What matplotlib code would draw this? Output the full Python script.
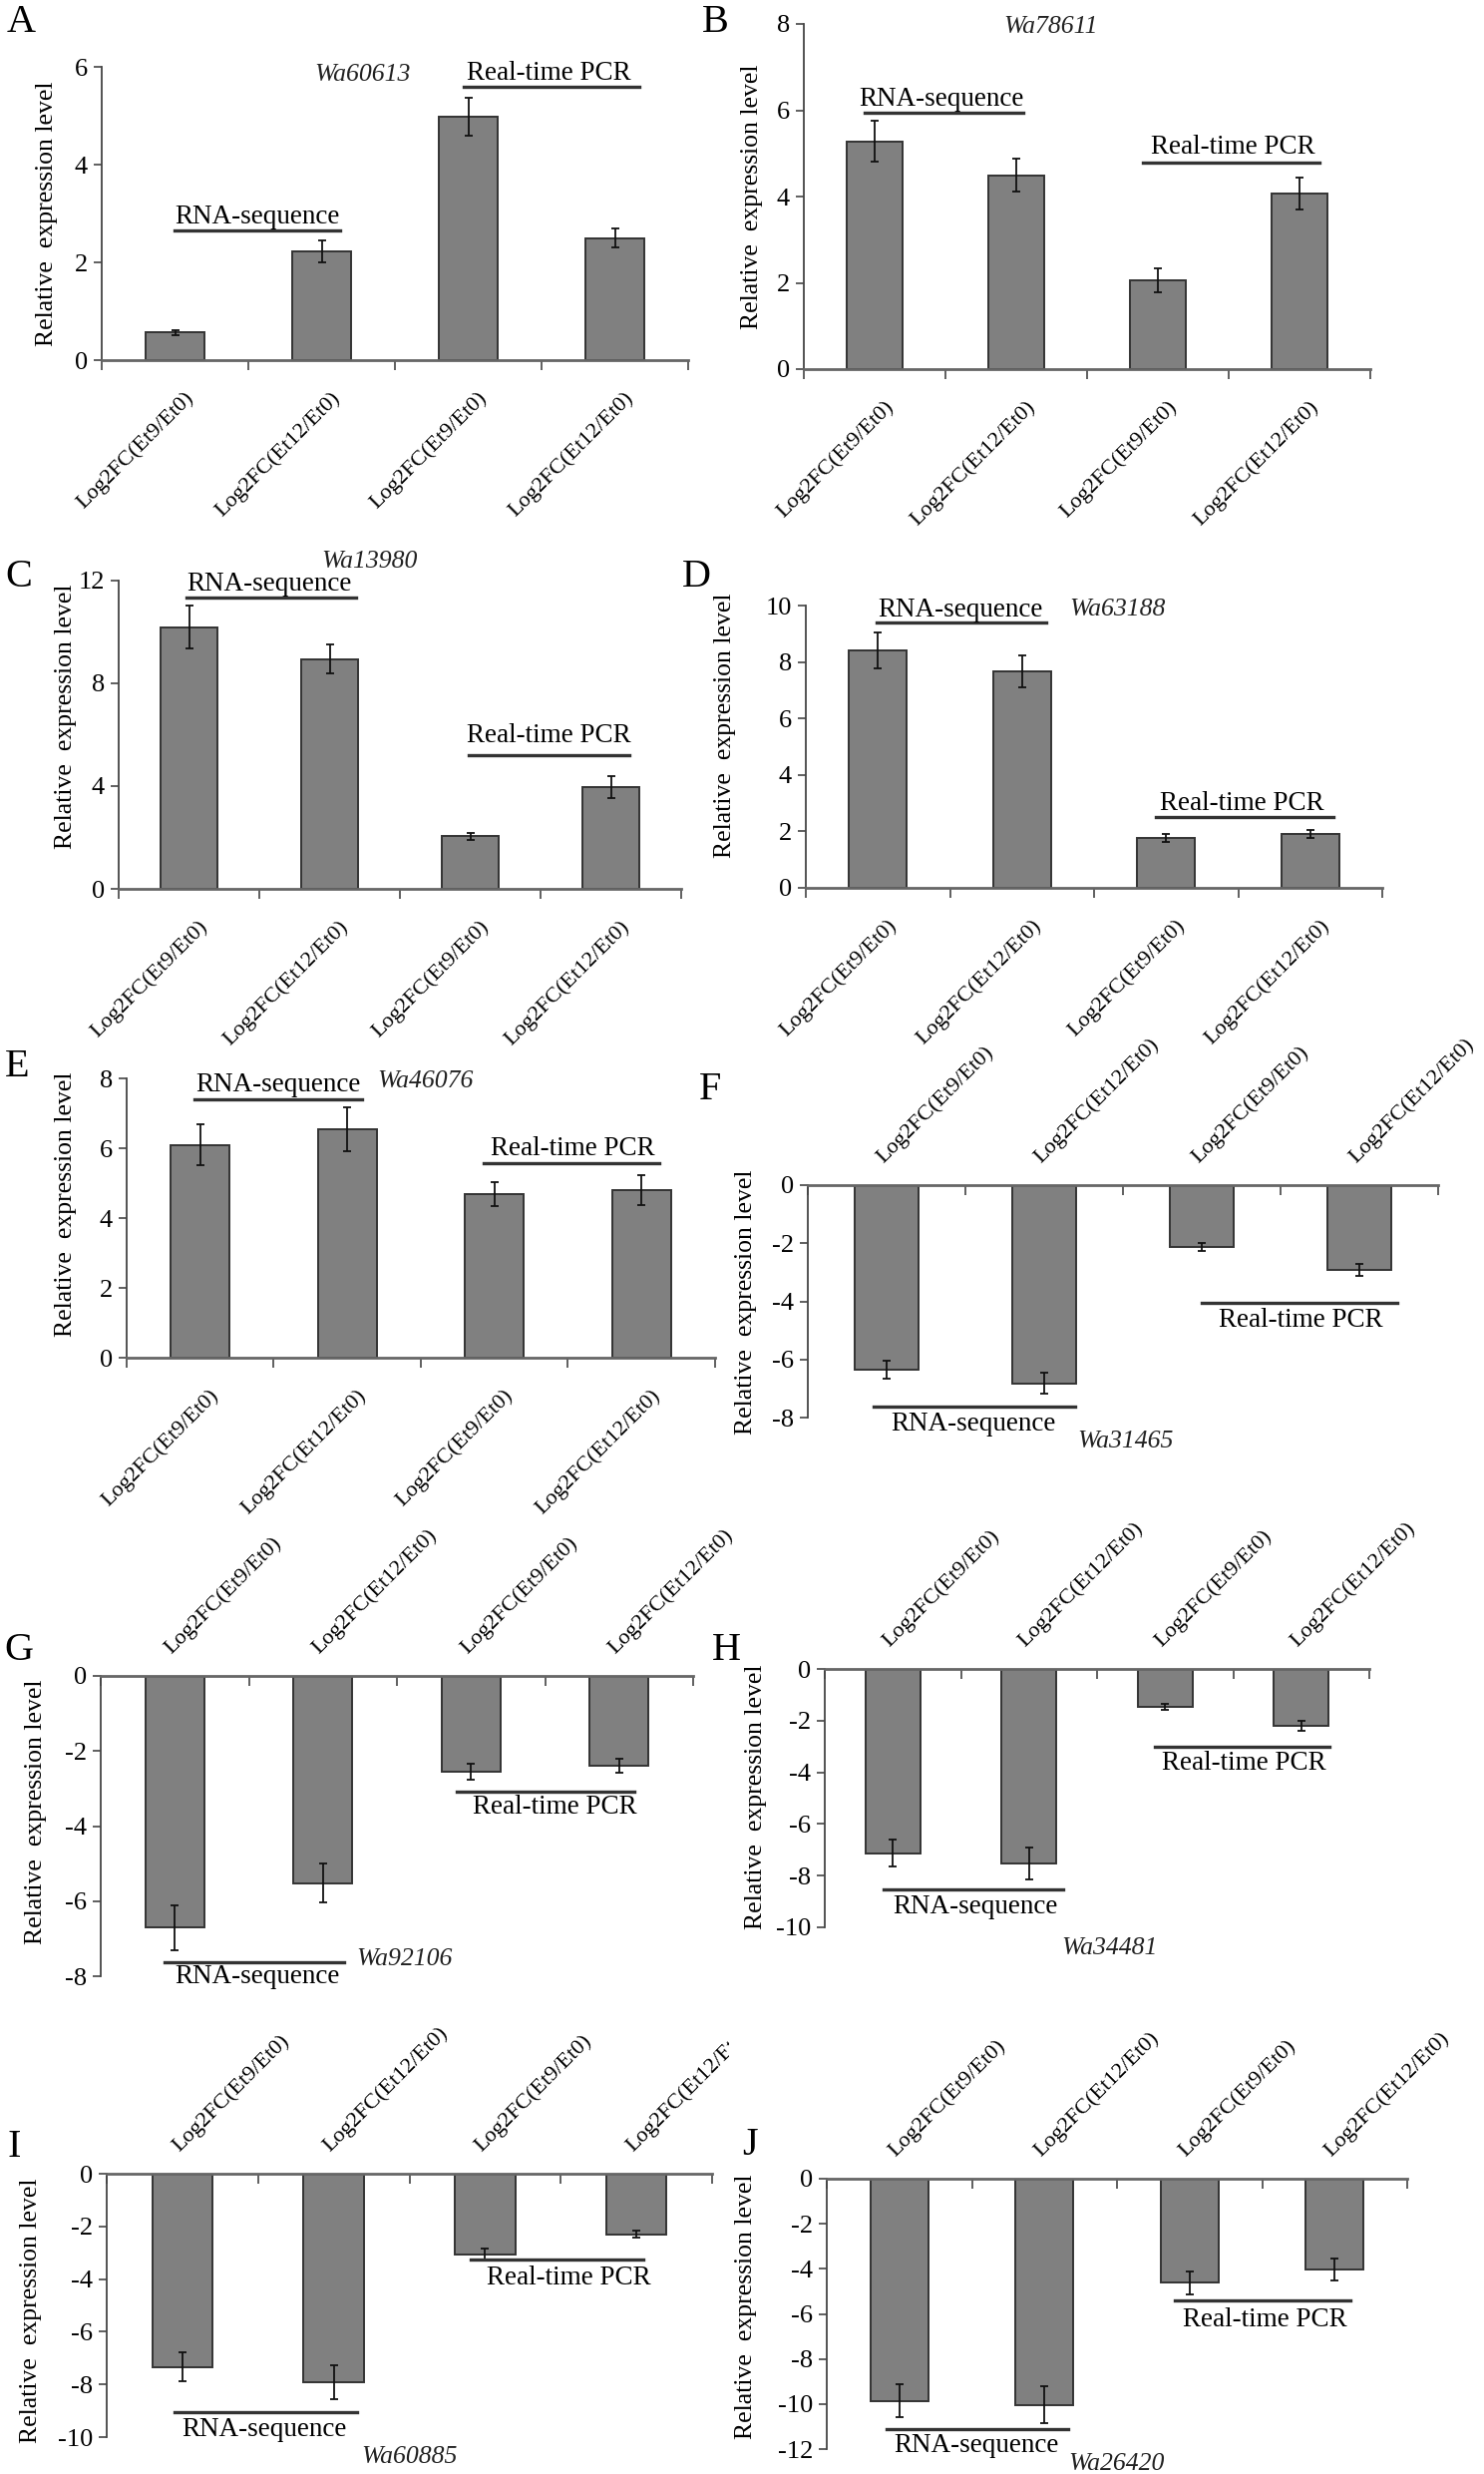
import numpy as np
import matplotlib.pyplot as plt
from matplotlib.lines import Line2D
from matplotlib.transforms import ScaledTranslation, Bbox

W, H = 1488, 2480
DPI = 100

categories = ["Log2FC(Et9/Et0)", "Log2FC(Et12/Et0)", "Log2FC(Et9/Et0)", "Log2FC(Et12/Et0)"]
letters = ["A", "B", "C", "D", "E", "F", "G", "H", "I", "J"]
genes = ["Wa60613", "Wa78611", "Wa13980", "Wa63188", "Wa46076",
         "Wa31465", "Wa92106", "Wa34481", "Wa60885", "Wa26420"]

# values (RNA-seq x2, real-time PCR x2)
values = [
    [0.57, 2.22, 4.98, 2.50],
    [5.28, 4.49, 2.06, 4.08],
    [10.18, 8.95, 2.04, 3.95],
    [8.41, 7.66, 1.77, 1.91],
    [6.10, 6.54, 4.69, 4.79],
    [-6.34, -6.82, -2.14, -2.91],
    [-6.70, -5.52, -2.55, -2.39],
    [-7.13, -7.53, -1.47, -2.19],
    [-7.33, -7.93, -3.06, -2.30],
    [-9.86, -10.04, -4.62, -4.03],
]
errors = [
    [0.05, 0.22, 0.39, 0.20],
    [0.47, 0.38, 0.28, 0.37],
    [0.83, 0.55, 0.13, 0.42],
    [0.64, 0.57, 0.13, 0.13],
    [0.58, 0.62, 0.34, 0.43],
    [0.31, 0.37, 0.14, 0.21],
    [0.60, 0.52, 0.22, 0.19],
    [0.53, 0.61, 0.10, 0.19],
    [0.54, 0.64, 0.22, 0.13],
    [0.74, 0.82, 0.52, 0.48],
]
ylims = [(0, 6), (0, 8), (0, 12), (0, 10), (0, 8),
         (-8, 0), (-8, 0), (-10, 0), (-10, 0), (-12, 0)]
ysteps = [2, 2, 4, 2, 2, 2, 2, 2, 2, 2]

# layout in reference pixels: axes box (x0, x1, ytop, ybot), letter, ylabel,
# gene name, RNA-seq text + bar, PCR text + bar
layout = [
    dict(box=(102, 690, 67, 361), letter=(21, 22), ylab=(47, 214), gene=(363, 75),
         rna=(258, 217), rna_line=(175, 341, 231), pcr=(550, 73), pcr_line=(465, 641, 87)),
    dict(box=(806, 1374, 24, 370), letter=(717, 22), ylab=(754, 197), gene=(1054, 27),
         rna=(944, 99), rna_line=(867, 1026, 113), pcr=(1236, 147), pcr_line=(1146, 1323, 163)),
    dict(box=(119, 683, 582, 891), letter=(19, 578), ylab=(66, 718), gene=(370, 563),
         rna=(270, 585), rna_line=(187, 357, 599), pcr=(550, 738), pcr_line=(470, 631, 757)),
    dict(box=(808, 1386, 607, 890), letter=(698, 578), ylab=(727, 727), gene=(1120, 611),
         rna=(963, 611), rna_line=(879, 1049, 624), pcr=(1245, 805), pcr_line=(1159, 1337, 819)),
    dict(box=(127, 717, 1081, 1361), letter=(17, 1070), ylab=(66, 1207), gene=(426, 1084),
         rna=(279, 1088), rna_line=(195, 363, 1102), pcr=(574, 1151), pcr_line=(485, 661, 1166)),
    dict(box=(810, 1442, 1188, 1421), letter=(712, 1093), ylab=(748, 1305), gene=(1128, 1445),
         rna=(976, 1428), rna_line=(876, 1078, 1410), pcr=(1304, 1324), pcr_line=(1205, 1401, 1306)),
    dict(box=(101, 695, 1680, 1981), letter=(19, 1655), ylab=(36, 1816), gene=(405, 1964),
         rna=(258, 1982), rna_line=(165, 345, 1967), pcr=(556, 1812), pcr_line=(458, 636, 1796)),
    dict(box=(827, 1373, 1673, 1932), letter=(728, 1655), ylab=(758, 1801), gene=(1112, 1953),
         rna=(978, 1912), rna_line=(886, 1066, 1894), pcr=(1247, 1767), pcr_line=(1158, 1333, 1751)),
    dict(box=(107, 714, 2179, 2443), letter=(14, 2152), ylab=(31, 2316), gene=(410, 2463),
         rna=(265, 2435), rna_line=(175, 358, 2418), pcr=(570, 2283), pcr_line=(472, 645, 2265)),
    dict(box=(829, 1411, 2184, 2455), letter=(752, 2150), ylab=(748, 2312), gene=(1119, 2470),
         rna=(979, 2452), rna_line=(889, 1071, 2435), pcr=(1268, 2325), pcr_line=(1178, 1354, 2306)),
]

plt.rcParams["font.family"] = ["Liberation Serif", "DejaVu Serif"]
BAR = "#808080"
AXC = "#444444"

fig = plt.figure(figsize=(W / DPI, H / DPI), dpi=DPI)


def fx(px):
    return px / W


def fy(py):
    return 1 - py / H


def label_line(x0, x1, y):
    fig.add_artist(Line2D([fx(x0), fx(x1)], [fy(y), fy(y)], color="#333333", lw=2.4))


for i in range(10):
    lay = layout[i]
    x0, x1, ytop, ybot = lay["box"]
    ax = fig.add_axes([fx(x0), fy(ybot), (x1 - x0) / W, (ybot - ytop) / H])
    neg = ylims[i][1] == 0

    x = np.arange(4)
    ax.bar(x, values[i], width=0.4, color=BAR, edgecolor="#333333", linewidth=1.4, zorder=2)
    ax.errorbar(x, values[i], yerr=errors[i], fmt="none", ecolor="#111111",
                elinewidth=1.3, capsize=3, capthick=1.3, zorder=3)

    ax.set_xlim(-0.5, 3.5)
    ax.set_ylim(*ylims[i])
    lo, hi = ylims[i]
    ticks = np.arange(lo, hi + 0.01, ysteps[i])
    ax.set_yticks(ticks)
    ax.set_yticklabels([f"{int(t)}" for t in ticks])
    ax.tick_params(axis="y", labelsize=19, length=6, width=1.2, color=AXC, pad=4, direction="out")

    ax.set_xticks(x)
    ax.set_xticks(np.arange(-0.5, 4, 1), minor=True)
    for s in ["top", "bottom", "left", "right"]:
        ax.spines[s].set_visible(False)
    ax.spines["left"].set_visible(True)
    ax.spines["left"].set_color(AXC)
    ax.spines["left"].set_linewidth(1.3)

    if neg:
        ax.xaxis.tick_top()
        ax.spines["top"].set_visible(True)
        ax.spines["top"].set_color("#666666")
        ax.spines["top"].set_linewidth(2.0)
        ax.tick_params(axis="x", which="major", length=0, pad=13)
        ax.tick_params(axis="x", which="minor", length=7, width=1.2, color=AXC, direction="in", top=True)
        ax.set_xticklabels(categories, rotation=45, ha="left", va="bottom",
                           rotation_mode="anchor", fontsize=16)
    else:
        ax.spines["bottom"].set_visible(True)
        ax.spines["bottom"].set_color("#666666")
        ax.spines["bottom"].set_linewidth(2.0)
        ax.tick_params(axis="x", which="major", length=0, pad=20)
        ax.tick_params(axis="x", which="minor", length=7, width=1.2, color=AXC, direction="out")
        ax.set_xticklabels(categories, rotation=45, ha="right", va="top",
                           rotation_mode="anchor", fontsize=16)
        shift = ScaledTranslation(9 / DPI, 0, fig.dpi_scale_trans)
        for lbl in ax.get_xticklabels():
            lbl.set_transform(lbl.get_transform() + shift)
    ax.patch.set_alpha(0)

    # panel I: last label is cut off by the neighbouring panel in the original
    if letters[i] == "I":
        lbl = ax.get_xticklabels()[3]
        lbl.set_clip_on(True)
        lbl.set_clip_box(Bbox.from_extents(0, 0, 731, H))

    fig.text(fx(lay["letter"][0]), fy(lay["letter"][1]), letters[i], fontsize=29,
             ha="center", va="center")
    fig.text(fx(lay["ylab"][0]), fy(lay["ylab"][1]), "Relative  expression level",
             fontsize=18.5, rotation=90, ha="center", va="center")
    fig.text(fx(lay["gene"][0]), fy(lay["gene"][1]), genes[i], fontsize=18.5,
             style="italic", ha="center", va="center", color="#222222")
    fig.text(fx(lay["rna"][0]), fy(lay["rna"][1]), "RNA-sequence", fontsize=19.5,
             ha="center", va="center")
    label_line(*lay["rna_line"])
    fig.text(fx(lay["pcr"][0]), fy(lay["pcr"][1]), "Real-time PCR", fontsize=19.5,
             ha="center", va="center")
    label_line(*lay["pcr_line"])

fig.savefig("out.png", dpi=DPI, facecolor="white")
